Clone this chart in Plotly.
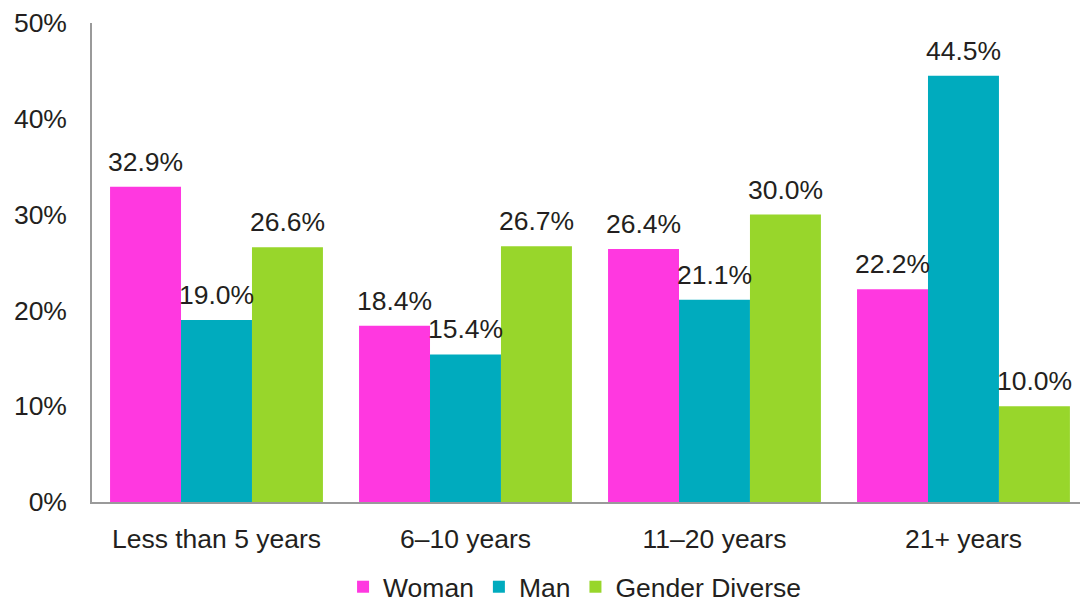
import plotly.graph_objects as go

categories = ["Less than 5 years", "6\u201310 years", "11\u201320 years", "21+ years"]
series_names = ["Woman", "Man", "Gender Diverse"]
woman = [32.9, 18.4, 26.4, 22.2]
man = [19.0, 15.4, 21.1, 44.5]
gender_diverse = [26.6, 26.7, 30.0, 10.0]
y_ticks = [0, 10, 20, 30, 40, 50]

colors = ["#FF38E0", "#00ABBE", "#98D62B"]
font_family = "Liberation Sans, Arial, sans-serif"
text_color = "#231F20"
fs = 26.5

series = [woman, man, gender_diverse]
bargap = 0.145
bar_w = (1 - bargap) / 3

fig = go.Figure()
for name, vals, col in zip(series_names, series, colors):
    fig.add_trace(go.Bar(
        x=list(range(len(categories))), y=vals, name=name,
        marker=dict(color=col, line=dict(width=0)),
    ))

# value labels above each bar
annotations = []
for k, vals in enumerate(series):
    for i, v in enumerate(vals):
        annotations.append(dict(
            x=i + (k - 1) * bar_w, y=v, xref="x", yref="y",
            text=f"{v:.1f}%", showarrow=False,
            yanchor="middle", yshift=25,
            font=dict(size=fs, color=text_color, family=font_family),
        ))

fig.update_layout(
    width=1080, height=611,
    margin=dict(l=92, r=0, t=23, b=109),
    paper_bgcolor="white", plot_bgcolor="white",
    barmode="group", bargap=bargap, bargroupgap=0,
    font=dict(family=font_family, size=fs, color=text_color),
    annotations=annotations,
    legend=dict(
        orientation="h", xref="container", x=0.532, xanchor="center",
        yref="container", y=0.0, yanchor="bottom",
        font=dict(size=fs, color=text_color), itemwidth=30,
    ),
    xaxis=dict(
        range=[-0.5, 3.468], tickmode="array",
        tickvals=list(range(len(categories))), ticktext=categories,
        showline=True, linecolor="#9A9A9A", linewidth=1.5,
        ticks="", showgrid=False, zeroline=False,
        ticklabelstandoff=12,
        tickfont=dict(size=fs, color=text_color),
    ),
    yaxis=dict(
        range=[0, 50], tickmode="array", tickvals=y_ticks,
        ticktext=[f"{t}%" for t in y_ticks],
        showline=True, linecolor="#9A9A9A", linewidth=1.5,
        ticks="", showgrid=False, zeroline=False,
        ticklabelstandoff=18,
        tickfont=dict(size=fs, color=text_color),
    ),
)

fig.write_html("out.html")
